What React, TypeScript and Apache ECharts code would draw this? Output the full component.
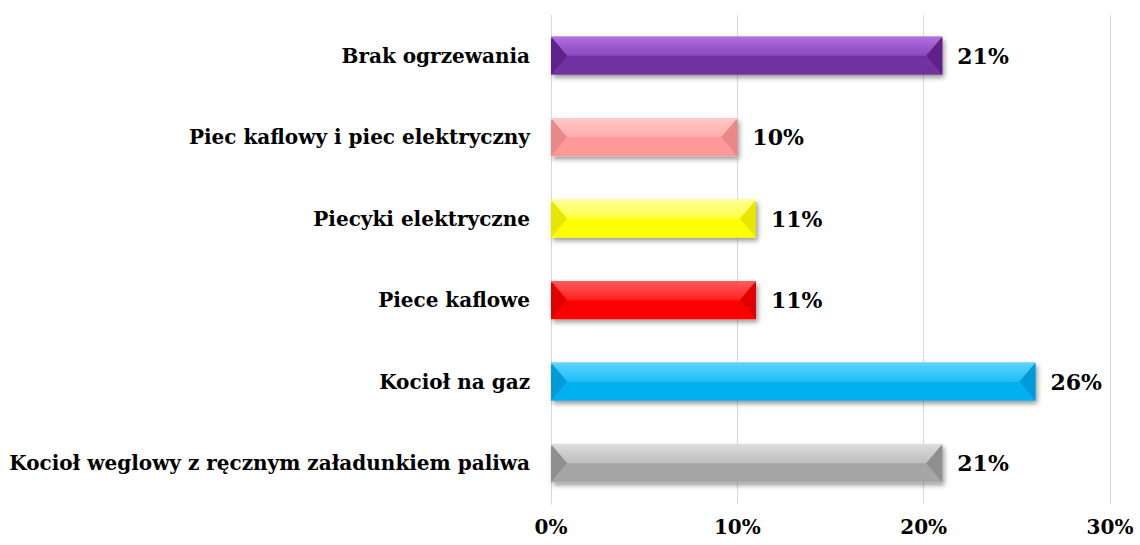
import React, { useEffect, useRef } from "react";
import * as echarts from "echarts";

const categories = [
  "Brak ogrzewania",
  "Piec kaflowy i piec elektryczny",
  "Piecyki elektryczne",
  "Piece kaflowe",
  "Kocioł na gaz",
  "Kocioł weglowy z ręcznym załadunkiem paliwa",
];
const values = [21, 10, 11, 11, 26, 21];
const baseColors = ["#7030a0", "#ff9999", "#ffff00", "#ff0000", "#00b0f0", "#a6a6a6"];
const lightColors = ["#b070e0", "#ffc8c8", "#ffff9a", "#ff5a5a", "#5ad4ff", "#dcdcdc"];
const midColors = ["#8a48bc", "#ffadad", "#ffff40", "#ff2020", "#20bcf4", "#bdbdbd"];
const sideColors = ["#5e2288", "#e88888", "#e6e600", "#e00000", "#009ad6", "#8f8f8f"];
const xTicks = [0, 10, 20, 30];

const FONT = "'DejaVu Serif', 'Liberation Serif', serif";
const BAR_H = 38;

export default function App() {
  const ref = useRef<HTMLDivElement>(null);
  useEffect(() => {
    if (!ref.current) return;
    const chart = echarts.init(ref.current, null, { renderer: "svg" });
    chart.setOption({
      animation: false,
      grid: { left: 551, right: 30, top: 15, bottom: 41, containLabel: false },
      xAxis: {
        type: "value",
        min: xTicks[0],
        max: xTicks[xTicks.length - 1],
        interval: 10,
        axisLine: { show: false },
        axisTick: { show: false },
        splitLine: { show: true, lineStyle: { color: "#d9d9d9", width: 1 } },
        axisLabel: {
          formatter: "{value}%",
          fontFamily: FONT,
          fontWeight: "bold",
          fontSize: 20,
          color: "#000",
          margin: 13,
        },
      },
      yAxis: {
        type: "category",
        inverse: true,
        data: categories,
        axisLine: { show: true, lineStyle: { color: "#d9d9d9" } },
        axisTick: { show: false },
        axisLabel: {
          fontFamily: FONT,
          fontWeight: "bold",
          fontSize: 20,
          color: "#000",
          margin: 21,
        },
      },
      series: [
        {
          type: "bar",
          barWidth: BAR_H,
          data: values.map((v, i) => ({
            value: v,
            itemStyle: {
              color: baseColors[i],
              shadowColor: "rgba(0,0,0,0.4)",
              shadowBlur: 5,
              shadowOffsetX: 2,
              shadowOffsetY: 3,
            },
          })),
          label: {
            show: true,
            position: "right",
            distance: 15,
            formatter: "{c}%",
            fontFamily: FONT,
            fontWeight: "bold",
            fontSize: 22,
            color: "#000",
          },
          z: 2,
        },
        {
          type: "custom",
          z: 3,
          silent: true,
          data: values.map((v, i) => [v, i]),
          renderItem: (params: any, api: any) => {
            const v = api.value(0);
            const i = api.value(1);
            const p0 = api.coord([0, i]);
            const p1 = api.coord([v, i]);
            const x0 = p0[0];
            const x1 = p1[0];
            const top = p0[1] - BAR_H / 2;
            const bot = top + BAR_H;
            const mid = top + BAR_H / 2;
            const b = 16;
            return {
              type: "group",
              children: [
                {
                  type: "polygon",
                  shape: { points: [[x0, top], [x1, top], [x1 - b, mid], [x0 + b, mid]] },
                  style: {
                    fill: new echarts.graphic.LinearGradient(0, 0, 0, 1, [
                      { offset: 0, color: lightColors[i] },
                      { offset: 1, color: midColors[i] },
                    ]),
                  },
                },
                {
                  type: "polygon",
                  shape: { points: [[x0, top], [x0 + b, mid], [x0, bot]] },
                  style: { fill: sideColors[i] },
                },
                {
                  type: "polygon",
                  shape: { points: [[x1, top], [x1 - b, mid], [x1, bot]] },
                  style: { fill: sideColors[i] },
                },
                {
                  type: "rect",
                  shape: { x: x0, y: top, width: x1 - x0, height: 1.5 },
                  style: { fill: lightColors[i] },
                },
              ],
            };
          },
        },
      ],
    });
    return () => chart.dispose();
  }, []);
  return <div ref={ref} style={{ width: 1140, height: 545, position: "absolute", left: 0, top: 0 }} />;
}
